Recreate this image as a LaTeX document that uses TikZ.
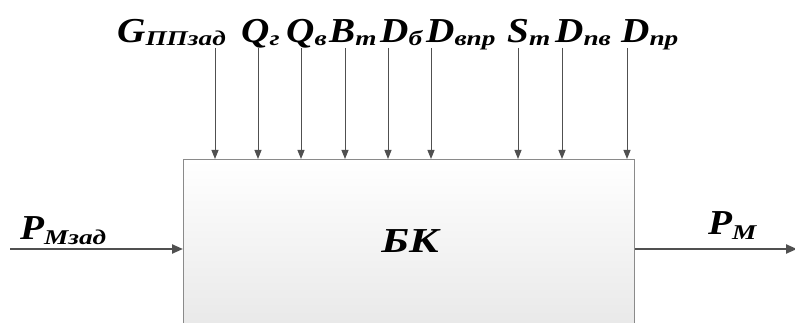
\documentclass[tikz,border=0pt]{standalone}
\usepackage{fontspec}
\setmainfont{Liberation Serif}
\usetikzlibrary{arrows.meta}
\definecolor{arrowgray}{HTML}{505050}
\definecolor{boxgray}{HTML}{8A8A8A}
\tikzset{
 lbl/.style={anchor=base west, inner sep=0pt, font=\bfseries\itshape},
 inarrow/.style={draw=arrowgray, line width=1pt, -{Triangle[length=9pt,width=7pt]}},
 mainarrow/.style={draw=arrowgray, line width=2.2pt, -{Triangle[length=11pt,width=9pt]}},
 bkbox/.style={draw=boxgray, line width=1.2pt, top color=white, bottom color=black!10, anchor=north west, inner sep=0pt},
}
\newcommand{\mainsym}[1]{\scalebox{1.12}[1]{\fontsize{35}{35}\selectfont #1}}
\newcommand{\sbs}[1]{\raisebox{-3pt}{\scalebox{1.3}[1]{\fontsize{21}{21}\selectfont #1}}}
\begin{document}
\begin{tikzpicture}[x=1pt,y=-1pt]
\useasboundingbox (0,0) rectangle (795,323);
\clip (0,0) rectangle (795,323);
\node[bkbox, minimum width=451pt, minimum height=190pt] (bk) at (183,159) {};
\node[anchor=base, inner sep=0pt, font=\bfseries\itshape] (bkl) at (410,252) {\scalebox{1.25}[1]{\fontsize{35}{35}\selectfont БК}};
% top labels
\node[lbl] (lg) at (117,43) {\mainsym{G}\sbs{ППзад}};
\node[lbl] (lqg) at (241,43) {\mainsym{Q}\sbs{г}};
\node[lbl] (lqv) at (286,43) {\mainsym{Q}\sbs{в}};
\node[lbl] (lbt) at (329,43) {\mainsym{B}\sbs{т}};
\node[lbl] (ldb) at (380,43) {\mainsym{D}\sbs{б}};
\node[lbl] (ldvpr) at (426,43) {\mainsym{D}\sbs{впр}};
\node[lbl] (lst) at (507,43) {\mainsym{S}\sbs{т}};
\node[lbl] (ldpv) at (555,43) {\mainsym{D}\sbs{пв}};
\node[lbl] (ldpr) at (621,43) {\mainsym{D}\sbs{пр}};
% arrow starts
\coordinate (a1) at (215,48);
\coordinate (a2) at (258,48);
\coordinate (a3) at (301,48);
\coordinate (a4) at (345,48);
\coordinate (a5) at (388,48);
\coordinate (a6) at (431,48);
\coordinate (a7) at (518,48);
\coordinate (a8) at (562,48);
\coordinate (a9) at (627,48);
\foreach \c in {a1,a2,a3,a4,a5,a6,a7,a8,a9}
  \draw[inarrow] (\c) -- (\c |- bk.north);
% side labels and arrows
\node[lbl] (lpin) at (20,240) {\mainsym{P}\raisebox{-2pt}{\sbs{Мзад}}};
\node[lbl] (lpout) at (708,235) {\mainsym{P}\raisebox{-2pt}{\sbs{М}}};
\coordinate (pin) at (10,249);
\coordinate (pout) at (797,249);
\draw[mainarrow] (pin) -- (pin -| bk.west);
\draw[mainarrow] (bk.east |- pin) -- (pout);
\end{tikzpicture}
\end{document}
